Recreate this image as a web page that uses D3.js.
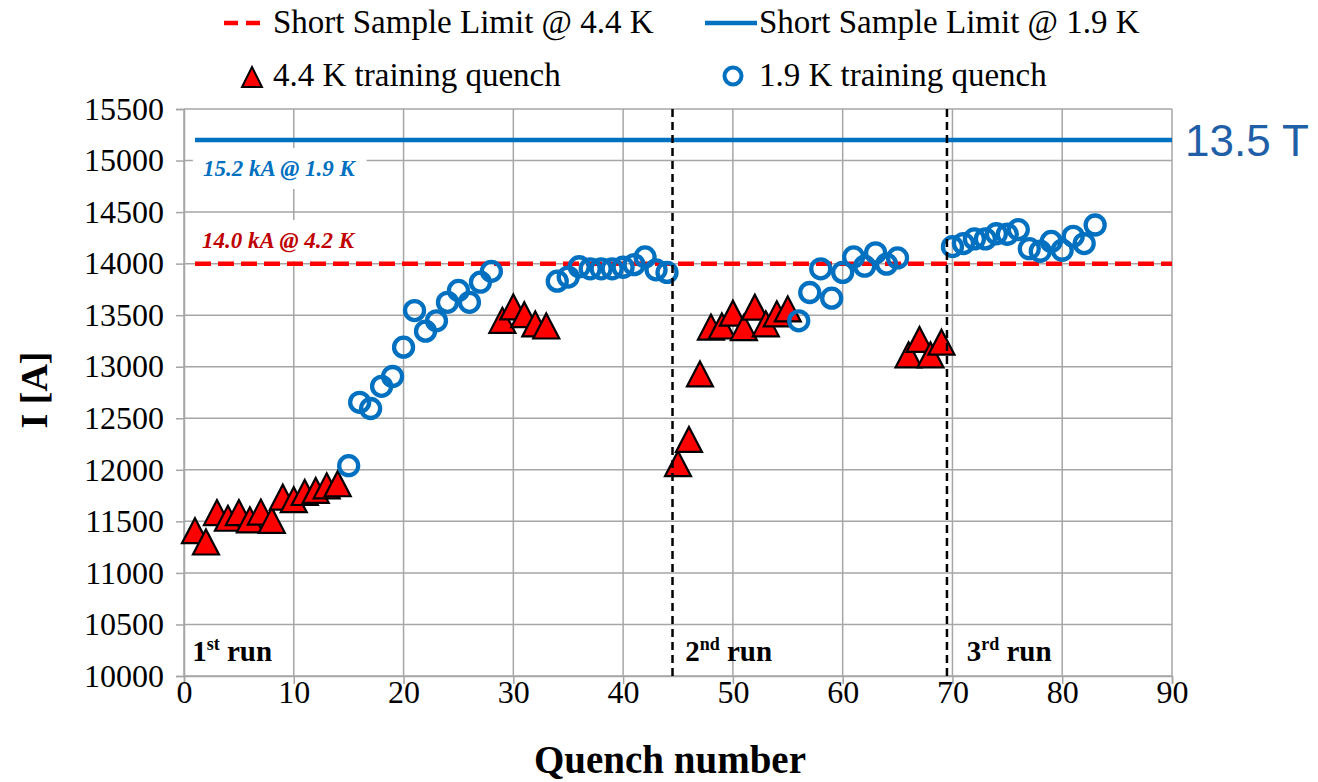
<!DOCTYPE html>
<html><head><meta charset="utf-8">
<script src="https://cdn.jsdelivr.net/npm/d3@7"></script>
<style>body{margin:0;background:#fff;} svg{display:block;}</style>
</head><body>
<script>
// ---- data ----
const q44 = [1,2,3,4,5,6,7,8,9,10,11,12,13,14,29,30,31,32,33,45,46,47,48,49,50,51,52,53,54,55,66,67,68,69];
const i44 = [11410,11300,11585,11530,11585,11515,11590,11510,11735,11710,11780,11800,11845,11865,
             13450,13580,13505,13415,13395,
             12060,12295,12930,13385,13395,13520,13380,13578,13416,13513,13561,
             13115,13265,13115,13238];
const q19 = [15,16,17,18,19,20,21,22,23,24,25,26,27,28,34,35,36,37,38,39,40,41,42,43,44,56,57,58,59,60,61,62,63,64,65,70,71,72,73,74,75,76,77,78,79,80,81,82,83];
const i19 = [12040,12655,12595,12810,12905,13190,13545,13345,13445,13625,13740,13625,13820,13925,
             13830,13870,13970,13950,13950,13950,13965,13990,14065,13940,13915,
             13445,13720,13950,13665,13915,14065,13975,14105,13995,14055,
             14165,14195,14240,14240,14290,14285,14330,14145,14120,14215,14130,14265,14195,14375];
const sslQ = [1, 90];
const ssl44 = 14000;
const ssl19 = 15200;
const runBounds = [44.5, 69.5];
const xTicks = [0,10,20,30,40,50,60,70,80,90];
const yTicks = [10000,10500,11000,11500,12000,12500,13000,13500,14000,14500,15000,15500];
const legendLabels = ["Short Sample Limit @ 4.4 K","Short Sample Limit @ 1.9 K","4.4 K training quench","1.9 K training quench"];

const W = 1318, H = 782;
const serif = "'Liberation Serif','Times New Roman',serif";
const svg = d3.select("body").append("svg").attr("width", W).attr("height", H);
const x = d3.scaleLinear().domain([0, 90]).range([184, 1172]);
const y = d3.scaleLinear().domain([10000, 15500]).range([676, 109]);
const grid = "#a6a6a6";

// gridlines
svg.append("g").selectAll("line").data(yTicks).join("line")
  .attr("x1", x(0)).attr("x2", x(90)).attr("y1", d => y(d)).attr("y2", d => y(d))
  .attr("stroke", grid).attr("stroke-width", 1.5);
svg.append("g").selectAll("line").data(xTicks).join("line")
  .attr("x1", d => x(d)).attr("x2", d => x(d)).attr("y1", y(10000)).attr("y2", y(15500))
  .attr("stroke", grid).attr("stroke-width", 1.5);

// axes
const xAxis = svg.append("g").attr("transform", `translate(0,${y(10000)})`)
  .call(d3.axisBottom(x).tickValues(xTicks).tickSize(8).tickFormat(d3.format("d")));
xAxis.selectAll("text").attr("y", 4);
const yAxis = svg.append("g").attr("transform", `translate(${x(0)},0)`)
  .call(d3.axisLeft(y).tickValues(yTicks).tickSize(8).tickPadding(12).tickFormat(d3.format("d")));
[xAxis, yAxis].forEach(a => {
  a.select(".domain").attr("stroke", grid).attr("stroke-width", 1.5);
  a.selectAll(".tick line").attr("stroke", grid).attr("stroke-width", 1.5);
  a.selectAll("text").attr("fill", "#000").style("font-family", serif).style("font-size", "32px");
});

// annotation boxes
function annot(txt, xq, yv, color) {
  const g = svg.append("g");
  const t = g.append("text").attr("x", x(xq)).attr("y", y(yv))
    .style("font-family", serif).style("font-size", "23px").style("font-weight", "bold")
    .style("font-style", "italic").attr("fill", color).text(txt);
  const b = t.node().getBBox();
  g.insert("rect", "text").attr("x", b.x - 10).attr("y", b.y - 8).attr("width", b.width + 20).attr("height", b.height + 16).attr("fill", "#fff");
}
annot("15.2 kA @ 1.9 K", 1.72, 14850, "#0070C0");
annot("14.0 kA @ 4.2 K", 1.65, 14151, "#C00000");

// reference lines
const line = d3.line().x(d => x(d[0])).y(d => y(d[1]));
svg.append("path").datum(sslQ.map(q => [q, ssl19])).attr("d", line)
  .attr("fill", "none").attr("stroke", "#0070C0").attr("stroke-width", 4.5);
svg.append("path").datum(sslQ.map(q => [q, ssl44])).attr("d", line)
  .attr("fill", "none").attr("stroke", "#FF0000").attr("stroke-width", 4.5).attr("stroke-dasharray", "16,7");

// markers
const triPath = (w, h) => `M0,${-h/2}L${w/2},${h/2}L${-w/2},${h/2}Z`;
svg.append("g").selectAll("path").data(q44.map((q, i) => [q, i44[i]])).join("path")
  .attr("d", triPath(26, 25)).attr("transform", d => `translate(${x(d[0])},${y(d[1])})`)
  .attr("fill", "#FF0000").attr("stroke", "#000").attr("stroke-width", 2.2).attr("stroke-linejoin", "miter");
svg.append("g").selectAll("circle").data(q19.map((q, i) => [q, i19[i]])).join("circle")
  .attr("cx", d => x(d[0])).attr("cy", d => y(d[1])).attr("r", 9.5)
  .attr("fill", "none").attr("stroke", "#0070C0").attr("stroke-width", 4.3);

// run boundaries
svg.append("g").selectAll("line").data(runBounds).join("line")
  .attr("x1", d => x(d)).attr("x2", d => x(d)).attr("y1", y(15500)).attr("y2", y(10000))
  .attr("stroke", "#000").attr("stroke-width", 2.5).attr("stroke-dasharray", "8,5");

// run labels
function runLabel(xq, num, sup) {
  const t = svg.append("text").attr("x", x(xq)).attr("y", 661)
    .style("font-family", serif).style("font-size", "29px").style("font-weight", "bold").attr("fill", "#000");
  t.append("tspan").text(num);
  t.append("tspan").attr("dy", -11).style("font-size", "18px").text(sup);
  t.append("tspan").attr("dy", 11).text(" run");
}
runLabel(0.75, "1", "st");
runLabel(45.65, "2", "nd");
runLabel(71.3, "3", "rd");

// axis titles
svg.append("text").attr("x", 670).attr("y", 773).attr("text-anchor", "middle")
  .style("font-family", serif).style("font-size", "39px").style("font-weight", "bold").text("Quench number");
svg.append("text").attr("transform", "translate(47,390) rotate(-90)").attr("text-anchor", "middle")
  .style("font-family", serif).style("font-size", "38px").style("font-weight", "bold").text("I [A]");

// 13.5 T
svg.append("text").attr("x", 1185).attr("y", 156)
  .style("font-family", "'Liberation Sans',Arial,sans-serif").style("font-size", "44px").attr("fill", "#1F5FA8").text("13.5 T");

// legend
const lg = svg.append("g").style("font-family", serif).style("font-size", "33px");
lg.append("line").attr("x1", 224).attr("x2", 260).attr("y1", 23).attr("y2", 23)
  .attr("stroke", "#FF0000").attr("stroke-width", 4.5).attr("stroke-dasharray", "14,8");
lg.append("text").attr("x", 273).attr("y", 33).text(legendLabels[0]);
lg.append("line").attr("x1", 705).attr("x2", 757).attr("y1", 23).attr("y2", 23)
  .attr("stroke", "#0070C0").attr("stroke-width", 4.5);
lg.append("text").attr("x", 759).attr("y", 33).text(legendLabels[1]);
lg.append("path").attr("d", triPath(20, 20))
  .attr("transform", "translate(252,77)").attr("fill", "#FF0000").attr("stroke", "#000").attr("stroke-width", 2);
lg.append("text").attr("x", 273).attr("y", 86).text(legendLabels[2]);
lg.append("circle").attr("cx", 733).attr("cy", 76).attr("r", 8.5)
  .attr("fill", "none").attr("stroke", "#0070C0").attr("stroke-width", 4);
lg.append("text").attr("x", 759).attr("y", 86).text(legendLabels[3]);
</script>
</body></html>
